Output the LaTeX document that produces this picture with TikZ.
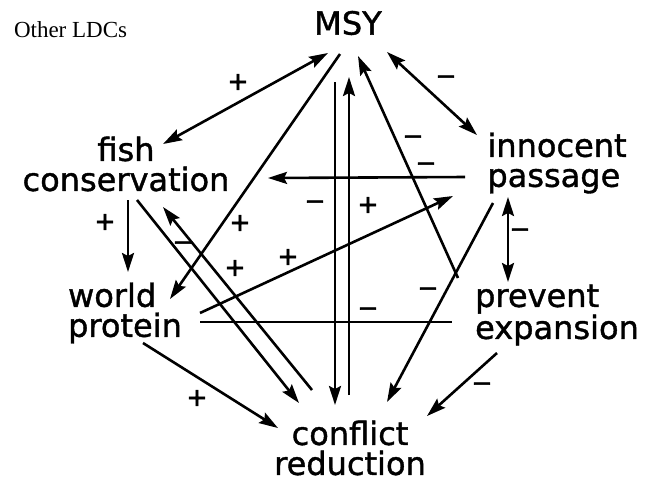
\documentclass[tikz,border=0pt]{standalone}
\usepackage{fontspec}
\usepackage{tikz}
\usetikzlibrary{arrows.meta}
\setmainfont{Liberation Serif}
\newfontfamily\letterfont[FakeBold=1.2]{DejaVu Sans}
\newfontfamily\signfont[FakeBold=2.5]{DejaVu Sans}

\begin{document}
\begin{tikzpicture}[x=1pt,y=-1pt,
  every node/.style={inner sep=0pt,outer sep=0pt},
  goal/.style={font=\letterfont\fontsize{32}{30}\selectfont},
  sign/.style={font=\signfont\fontsize{25}{25}\selectfont},
  link/.style={line width=2.6pt,-{Stealth[length=19pt,width=12pt,inset=3pt]}},
  both/.style={line width=2.6pt,{Stealth[length=19pt,width=12pt,inset=3pt]}-{Stealth[length=19pt,width=12pt,inset=3pt]}},
  bare/.style={line width=2.6pt}]
\useasboundingbox (0,0) rectangle (647,483);
\node[anchor=base west,font=\fontsize{23}{23}\selectfont] (other) at (14,37) {Other LDCs};
\node[goal] (msy) at (348,23) {MSY};
\node[goal,align=center] (fish) at (126,164) {fish\\conservation};
\node[goal,align=left] (inn) at (557,163) {innocent\\passage};
\node[goal,align=left] (world) at (125,313) {world\\protein};
\node[goal,align=left] (prev) at (557,315) {prevent\\expansion};
\node[goal,align=center] (conf) at (350,448) {conflict\\reduction};
% connectors
\draw[both] ([shift={(37,-20)}]fish.center) -- ([shift={(-20,30)}]msy.center);
\draw[link] ([shift={(-8,31)}]msy.center) -- ([shift={(45,-14)}]world.center);
\draw[link] ([shift={(-92,14)}]inn.center) -- ([shift={(142,14)}]fish.center);
\draw[link] ([shift={(-13,59)}]msy.center) -- ([shift={(-15,-43)}]conf.center);
\draw[link] ([shift={(-1,-53)}]conf.center) -- ([shift={(1,54)}]msy.center);
\draw[link] ([shift={(-99,-37)}]prev.center) -- ([shift={(10,33)}]msy.center);
\draw[both] ([shift={(39,29)}]msy.center) -- ([shift={(-80,-28)}]inn.center);
\draw[link] ([shift={(2,36)}]fish.center) -- ([shift={(3,-41)}]world.center);
\draw[link] ([shift={(11,36)}]fish.center) -- ([shift={(-51,-45)}]conf.center);
\draw[link] ([shift={(-38,-58)}]conf.center) -- ([shift={(37,43)}]fish.center);
\draw[link] ([shift={(75,0)}]world.center) -- ([shift={(-104,33)}]inn.center);
\draw[bare] ([shift={(75,9)}]world.center) -- ([shift={(-105,7)}]prev.center);
\draw[link] ([shift={(18,30)}]world.center) -- ([shift={(-72,-20)}]conf.center);
\draw[link] ([shift={(-64,40)}]inn.center) -- ([shift={(37,-46)}]conf.center);
\draw[both] ([shift={(-49,34)}]inn.center) -- ([shift={(-49,-33)}]prev.center);
\draw[link] ([shift={(-60,38)}]prev.center) -- ([shift={(77,-32)}]conf.center);
% signs
\node[sign] (s1) at (238,82) {+};
\node[sign] (s2) at (446,80) {−};
\node[sign] (s3) at (413,140) {−};
\node[sign] (s4) at (426,167) {−};
\node[sign] (s5) at (105,222) {+};
\node[sign] (s6) at (183,246) {−};
\node[sign] (s7) at (240,223) {+};
\node[sign] (s8) at (235,268) {+};
\node[sign] (s9) at (288,257) {+};
\node[sign] (s10) at (315,205) {−};
\node[sign] (s11) at (368,205) {+};
\node[sign] (s12) at (520,233) {−};
\node[sign] (s13) at (428,292) {−};
\node[sign] (s14) at (368,312) {−};
\node[sign] (s15) at (197,398) {+};
\node[sign] (s16) at (482,387) {−};
\end{tikzpicture}
\end{document}
